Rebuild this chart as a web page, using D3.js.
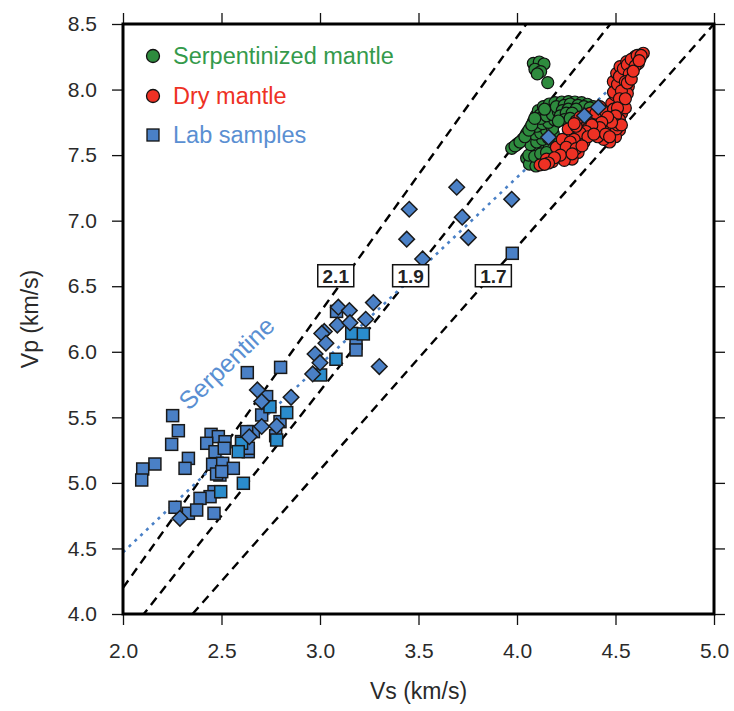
<!DOCTYPE html>
<html><head><meta charset="utf-8">
<script src="https://cdn.jsdelivr.net/npm/d3@7"></script>
<style>
body{margin:0;background:#fff;}
text{font-family:"Liberation Sans",Arial,Helvetica,sans-serif;}
</style>
</head><body>
<svg id="chart" width="734" height="711"></svg>
<script>
// ---------- data ----------
const xTicks = [2.0, 2.5, 3.0, 3.5, 4.0, 4.5, 5.0];
const yTicks = [4.0, 4.5, 5.0, 5.5, 6.0, 6.5, 7.0, 7.5, 8.0, 8.5];
const ratios = [2.1, 1.9, 1.7];
const ratioLabelVs = [3.08, 3.46, 3.88];
const ratioLabelVp = 6.58;
const serpVs = [2.0, 3.0, 4.0, 4.46];
const serpVp = [4.47, 5.90, 7.33, 7.99];
const serpLabelPos = [2.525, 5.915];
const legendLabels = ["Serpentinized mantle", "Dry mantle", "Lab samples"];

const serpentinizedMantle = [
 [4.083,8.200],[4.113,8.210],[4.137,8.195],[4.091,8.155],[4.120,8.137],[4.103,8.119],[4.156,8.053],
 [3.973,7.552],[4.002,7.585],[4.029,7.621],[4.049,7.666],[4.069,7.712],[4.083,7.755],[4.096,7.799],
 [4.108,7.839],[4.134,7.870],[4.164,7.890],[4.193,7.900],[4.227,7.905],[4.261,7.908],[4.294,7.905],
 [4.328,7.900],[4.357,7.888],[4.387,7.870],
 [4.117,7.806],[4.151,7.832],[4.184,7.844],[4.218,7.857],[4.252,7.870],[4.286,7.870],
 [4.113,7.743],[4.142,7.768],[4.176,7.781],[4.201,7.806],
 [4.103,7.679],[4.134,7.705],[4.167,7.712],[4.193,7.743],
 [4.091,7.616],[4.120,7.641],[4.151,7.654],[4.184,7.666],
 [4.083,7.565],[4.113,7.585],[4.142,7.603],[4.171,7.616],
 [4.074,7.514],[4.103,7.527],[4.134,7.539],[4.164,7.560],
 [4.049,7.476],[4.080,7.463],[4.113,7.476],[4.142,7.488],
 [4.063,7.432],[4.096,7.417],[4.125,7.432],
 [4.060,7.500],[4.090,7.490],[4.120,7.510],[4.150,7.520],[4.070,7.580],[4.100,7.600],[4.130,7.620],
 [4.160,7.630],[4.090,7.660],[4.120,7.670],[4.150,7.690],[4.180,7.700],[4.100,7.720],[4.130,7.740],
 [4.160,7.750],[4.190,7.770],[4.120,7.780],[4.150,7.800],[4.180,7.810],[4.210,7.830],[4.140,7.850],
 [4.200,7.870],[4.240,7.880],[4.270,7.890],[4.310,7.880],[4.340,7.870],[4.230,7.840],[4.260,7.850],
 [4.300,7.850],[4.370,7.860],[3.990,7.570],[4.015,7.600],[4.040,7.640],[4.060,7.690],[4.075,7.730],
 [4.090,7.780],[4.220,7.800],[4.250,7.820],[4.280,7.820],[4.240,7.770],[4.270,7.780],[4.210,7.760]
];
const dryMantle = [
 [4.117,7.425],[4.205,7.494],[4.235,7.590],[4.261,7.641],[4.286,7.692],[4.320,7.717],[4.354,7.755],
 [4.396,7.768],[4.447,7.768],[4.481,7.717],[4.489,7.666],[4.464,7.654],[4.430,7.692],[4.388,7.692],
 [4.328,7.641],[4.303,7.603],[4.269,7.565],[4.252,7.514],[4.225,7.540],[4.371,7.819],[4.421,7.870],
 [4.481,7.895],[4.498,7.959],[4.489,8.061],[4.506,8.124],[4.523,8.175],[4.557,8.213],[4.599,8.251],
 [4.641,8.277],[4.616,8.200],[4.582,8.150],[4.557,8.099],[4.540,8.023],[4.540,7.921],[4.531,7.819],
 [4.514,7.742],[4.489,7.793],[4.565,8.023],[4.520,7.880],[4.505,8.000],[4.525,8.060],[4.545,8.130],
 [4.575,8.180],[4.600,8.215],[4.625,8.240],[4.560,7.970],[4.550,7.860],[4.520,7.690],[4.500,7.640],
 [4.470,7.600],[4.440,7.620],[4.410,7.640],[4.360,7.700],[4.340,7.600],[4.310,7.520],[4.280,7.470],
 [4.240,7.460],[4.180,7.450],[4.150,7.470],[4.200,7.560],[4.230,7.620],[4.260,7.700],[4.300,7.760],
 [4.340,7.800],[4.400,7.820],[4.450,7.830],[4.470,7.700],[4.490,7.850],[4.520,7.770],[4.505,7.700],
 [4.490,7.980],[4.510,8.040],[4.520,8.100],[4.540,8.160],[4.560,8.190],[4.580,8.230],[4.610,8.260],
 [4.630,8.260],[4.600,8.180],[4.570,8.120],[4.550,8.060],[4.530,7.990],[4.520,7.930],[4.510,7.860],
 [4.500,7.800],[4.510,7.730],[4.530,7.730],[4.550,7.930],[4.560,8.050],[4.580,8.080],[4.590,8.140],
 [4.620,8.220],[4.480,7.750],[4.460,7.790],[4.430,7.750],[4.420,7.710],[4.380,7.730],[4.350,7.680],
 [4.320,7.670],[4.290,7.620],[4.270,7.600],[4.250,7.560],[4.220,7.500],[4.190,7.480],[4.160,7.440],
 [4.140,7.430],[4.360,7.640],[4.390,7.660],[4.450,7.660],[4.470,7.640],[4.300,7.550],[4.330,7.570],
 [4.280,7.510],[4.300,7.720],[4.320,7.790],[4.290,7.740]
];
const labSquares = [
 [2.252,5.513],[2.281,5.398],[2.247,5.294],[2.162,5.144],[2.100,5.106],[2.095,5.022],[2.332,5.187],
 [2.315,5.111],[2.447,5.370],[2.484,5.353],[2.425,5.302],[2.518,5.314],[2.467,5.238],[2.514,5.264],
 [2.455,5.142],[2.506,5.149],[2.560,5.111],[2.492,5.060],[2.475,5.068],[2.501,5.086],[2.462,4.933],
 [2.442,4.895],[2.391,4.882],[2.264,4.814],[2.332,4.768],[2.374,4.793],[2.462,4.768],[2.636,5.238],
 [2.602,5.315],[2.662,5.391],[2.628,5.391],[2.636,5.264],[2.704,5.518],[2.729,5.658],[2.797,5.467],
 [2.631,5.841],[2.800,5.881],[3.084,6.308],[3.183,6.065],[3.183,6.014],[3.976,6.751],[2.775,5.360]
];
const labSquaresLight = [
 [2.611,4.997],[2.496,4.933],[2.602,5.302],[2.585,5.238],[2.746,5.581],[2.831,5.536],[2.780,5.327],
 [3.161,6.140],[3.220,6.136],[3.081,5.943],[3.003,5.823]
];
const labDiamonds = [
 [3.694,7.255],[3.453,7.087],[3.973,7.163],[3.722,7.027],[3.440,6.859],[3.753,6.871],[3.521,6.708],
 [4.160,7.636],[4.342,7.801],[4.413,7.865],[3.093,6.340],[3.149,6.314],[3.271,6.375],[3.232,6.248],
 [3.088,6.204],[3.152,6.222],[3.022,6.155],[3.009,6.140],[3.030,6.065],[2.975,5.983],[3.000,5.917],
 [2.963,5.831],[3.301,5.887],[2.682,5.709],[2.704,5.620],[2.853,5.653],[2.704,5.430],[2.780,5.434],
 [2.641,5.352],[2.289,4.730]
];

// ---------- colours ----------
const cGreen = "#2e8b3e", cGreenText = "#349a4b";
const cRed = "#ee3124", cRedText = "#ee3124";
const cBlue = "#4a80c6", cBlueLight = "#2a8ccc", cBlueText = "#5a8fd2";

// ---------- chart ----------
const svg = d3.select("#chart");
const x = d3.scaleLinear().domain([2.0, 5.0]).range([123, 714]);
const y = d3.scaleLinear().domain([4.0, 8.5]).range([614, 24]);

svg.append("defs").append("clipPath").attr("id","plot")
  .append("rect").attr("x",x(2)).attr("y",y(8.5)).attr("width",x(5)-x(2)).attr("height",y(4)-y(8.5));

const plot = svg.append("g").attr("clip-path","url(#plot)");

// ratio lines
plot.selectAll("line.ratio").data(ratios).join("line")
  .attr("class","ratio")
  .attr("x1", d => x(2.0)).attr("y1", d => y(2.0*d))
  .attr("x2", d => x(5.0)).attr("y2", d => y(5.0*d))
  .attr("stroke","#000").attr("stroke-width",2.4).attr("stroke-dasharray","9,6");

// serpentine dotted line
plot.append("path")
  .datum(serpVs.map((v,i)=>[v,serpVp[i]]))
  .attr("d", d3.line().x(d=>x(d[0])).y(d=>y(d[1])))
  .attr("fill","none").attr("stroke",cBlue).attr("stroke-width",2.6).attr("stroke-dasharray","3,5");

// serpentine label
const ang = -Math.atan2((y(serpVp[0])-y(serpVp[2])), (x(serpVs[2])-x(serpVs[0]))) * 180/Math.PI;
svg.append("text")
  .attr("transform", `translate(${x(serpLabelPos[0])},${y(serpLabelPos[1])}) rotate(${ang})`)
  .attr("text-anchor","middle").attr("dominant-baseline","central")
  .attr("fill",cBlueText).attr("font-size",25).text("Serpentine");

// clusters
plot.selectAll("circle.g").data(serpentinizedMantle).join("circle")
  .attr("class","g").attr("cx",d=>x(d[0])).attr("cy",d=>y(d[1])).attr("r",6)
  .attr("fill",cGreen).attr("stroke","#111").attr("stroke-width",1.2);
plot.selectAll("circle.r").data(dryMantle).join("circle")
  .attr("class","r").attr("cx",d=>x(d[0])).attr("cy",d=>y(d[1])).attr("r",6)
  .attr("fill",cRed).attr("stroke","#111").attr("stroke-width",1.2);

// lab samples
const sq = 12;
plot.selectAll("rect.s").data(labSquares).join("rect")
  .attr("class","s").attr("x",d=>x(d[0])-sq/2).attr("y",d=>y(d[1])-sq/2)
  .attr("width",sq).attr("height",sq)
  .attr("fill",cBlue).attr("stroke","#1a1a1a").attr("stroke-width",1.5);
plot.selectAll("rect.sl").data(labSquaresLight).join("rect")
  .attr("class","sl").attr("x",d=>x(d[0])-sq/2).attr("y",d=>y(d[1])-sq/2)
  .attr("width",sq).attr("height",sq)
  .attr("fill",cBlueLight).attr("stroke","#1a1a1a").attr("stroke-width",1.5);
const dm = 7.8;
plot.selectAll("path.d").data(labDiamonds).join("path")
  .attr("class","d")
  .attr("d", d => `M${x(d[0])},${y(d[1])-dm}L${x(d[0])+dm},${y(d[1])}L${x(d[0])},${y(d[1])+dm}L${x(d[0])-dm},${y(d[1])}Z`)
  .attr("fill",cBlue).attr("stroke","#1a1a1a").attr("stroke-width",1.5);

// ratio labels
const lab = svg.selectAll("g.rl").data(ratios).join("g").attr("class","rl")
  .attr("transform",(d,i)=>`translate(${x(ratioLabelVs[i])},${y(ratioLabelVp)})`);
lab.append("rect").attr("x",-18).attr("y",-11).attr("width",36).attr("height",22)
  .attr("fill","#fff").attr("stroke","#111").attr("stroke-width",1.5);
lab.append("text").attr("text-anchor","middle").attr("dominant-baseline","central").attr("y",1)
  .attr("font-size",19).attr("font-weight","bold").attr("fill","#222").text(d=>d.toFixed(1));

// axes
const fmt = d3.format(".1f");
const gB = svg.append("g").attr("transform",`translate(0,${y(4)})`)
  .call(d3.axisBottom(x).tickValues(xTicks).tickFormat(fmt).tickSize(11).tickPadding(18));
const gL = svg.append("g").attr("transform",`translate(${x(2)},0)`)
  .call(d3.axisLeft(y).tickValues(yTicks).tickFormat(fmt).tickSize(11).tickPadding(15));
const gT = svg.append("g").attr("transform",`translate(0,${y(8.5)})`)
  .call(d3.axisTop(x).tickValues(xTicks).tickFormat("").tickSize(11));
const gR = svg.append("g").attr("transform",`translate(${x(5)},0)`)
  .call(d3.axisRight(y).tickValues(yTicks).tickFormat("").tickSize(11));
[gB,gL,gT,gR].forEach(g=>{
  g.select(".domain").remove();
  g.selectAll(".tick line").attr("stroke","#111").attr("stroke-width",1.3);
  g.selectAll(".tick text").attr("font-size",21).attr("fill","#2a2a2a")
   .attr("font-family","'Liberation Sans',Arial,Helvetica,sans-serif");
});

// frame
svg.append("rect").attr("x",x(2)).attr("y",y(8.5)).attr("width",x(5)-x(2)).attr("height",y(4)-y(8.5))
  .attr("fill","none").attr("stroke","#000").attr("stroke-width",3);

// axis titles
svg.append("text").attr("x",(x(2)+x(5))/2).attr("y",699).attr("text-anchor","middle")
  .attr("font-size",23).attr("fill","#2a2a2a").text("Vs (km/s)");
svg.append("text").attr("transform",`translate(38,${(y(4)+y(8.5))/2}) rotate(-90)`)
  .attr("text-anchor","middle").attr("font-size",23).attr("fill","#2a2a2a").text("Vp (km/s)");

// legend
const legColors = [cGreen, cRed, cBlue];
const legText = [cGreenText, cRedText, cBlueText];
const legY = [56, 96, 135];
const leg = svg.selectAll("g.leg").data(legendLabels).join("g").attr("class","leg")
  .attr("transform",(d,i)=>`translate(153,${legY[i]})`);
leg.each(function(d,i){
  const g = d3.select(this);
  if (i < 2) g.append("circle").attr("r",6.5).attr("fill",legColors[i]).attr("stroke","#111").attr("stroke-width",1.3);
  else g.append("rect").attr("x",-6).attr("y",-6).attr("width",12).attr("height",12)
        .attr("fill",legColors[i]).attr("stroke","#111").attr("stroke-width",1.3);
  g.append("text").attr("x",20).attr("dy","0.36em").attr("font-size",23.5)
   .attr("fill",legText[i]).text(d);
});
</script>
</body></html>
